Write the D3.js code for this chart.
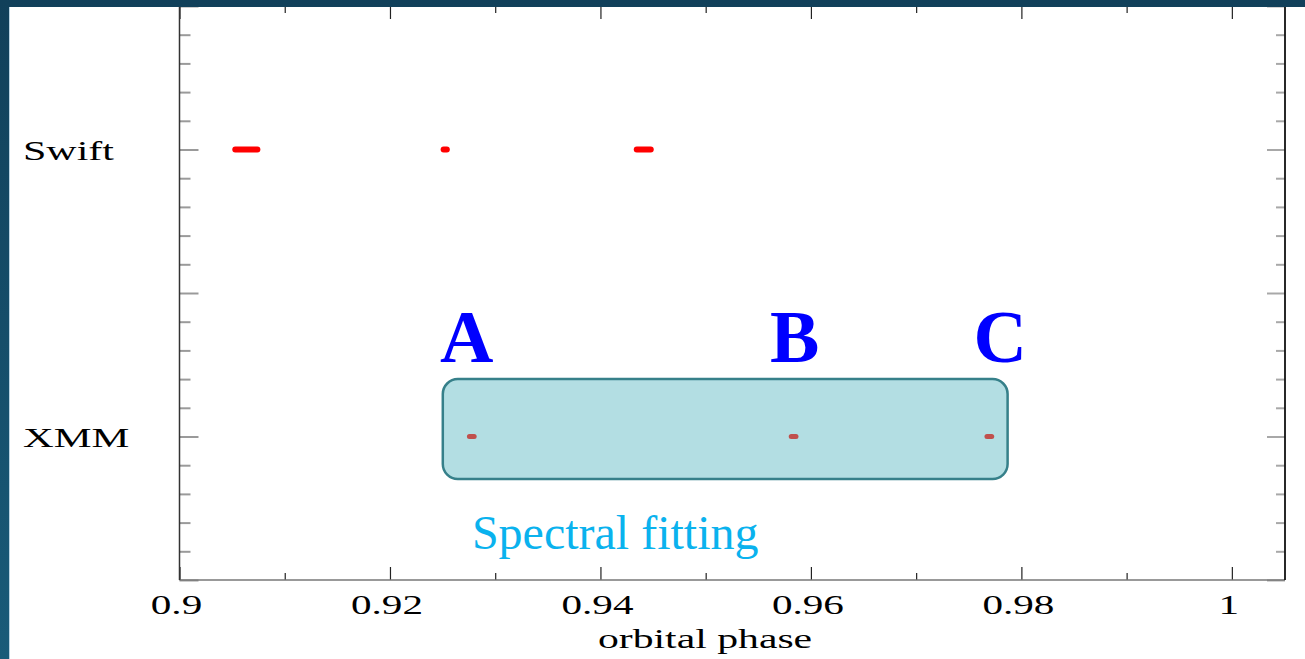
<!DOCTYPE html>
<html>
<head>
<meta charset="utf-8">
<script src="https://cdn.jsdelivr.net/npm/d3@7"></script>
<style>
  html, body { margin: 0; padding: 0; background: #fff; }
  svg { display: block; }
  text { font-family: "Liberation Serif", "Times New Roman", serif; }
</style>
</head>
<body>
<svg id="chart" width="1305" height="659"></svg>
<script>
// Observation windows in orbital phase
const instruments = ["Swift", "XMM"];
const instrumentLevel = [2, 1];

const swiftStart = [0.9053, 0.9251, 0.94345];
const swiftEnd   = [0.9074, 0.9254, 0.94478];

const xmmStart = [0.92755, 0.95813, 0.97673];
const xmmEnd   = [0.92800, 0.95858, 0.97718];
const xmmLabels = ["A", "B", "C"];

const phaseTicks = [0.9, 0.92, 0.94, 0.96, 0.98, 1];
const phaseTickLabels = ["0.9", "0.92", "0.94", "0.96", "0.98", "1"];
const phaseMinorTicks = [0.91, 0.93, 0.95, 0.97, 0.99];

const fitWindow = [0.92502, 0.97869];   // phase range used for spectral fitting
const fitLevels = [0.852, 1.2];

const svg = d3.select("#chart");
const W = 1305, H = 659;

// backdrop frame
const defs = svg.append("defs");
const grad = defs.append("linearGradient")
  .attr("id", "frame").attr("x1", 0).attr("y1", 0).attr("x2", 0).attr("y2", 1);
grad.append("stop").attr("offset", "0%").attr("stop-color", "#11405a");
grad.append("stop").attr("offset", "100%").attr("stop-color", "#195b79");
defs.append("clipPath").attr("id", "panel").append("rect")
  .attr("x", 9).attr("y", 7).attr("width", W - 9).attr("height", H - 7);

svg.append("rect").attr("width", W).attr("height", H).attr("fill", "url(#frame)");
svg.append("rect").attr("x", 9).attr("y", 7).attr("width", W - 9).attr("height", H - 7).attr("fill", "#fff");
svg.append("line").attr("x1", 9.5).attr("x2", 9.5).attr("y1", 7).attr("y2", H)
  .attr("stroke", "#b9d3e2").attr("stroke-width", 1);

const plot = { left: 179.5, right: 1285, top: 6, bottom: 580 };

const x = d3.scaleLinear().domain([0.9, 1.00505]).range([plot.left, plot.right]);
const y = d3.scaleLinear().domain([0.5, 2.5]).range([plot.bottom, plot.top]);

const g = svg.append("g").attr("clip-path", "url(#panel)");

// spectral fitting window
g.append("rect")
  .attr("x", x(fitWindow[0]))
  .attr("y", y(fitLevels[1]))
  .attr("width", x(fitWindow[1]) - x(fitWindow[0]))
  .attr("height", y(fitLevels[0]) - y(fitLevels[1]))
  .attr("rx", 15).attr("ry", 15)
  .attr("fill", "#b3dee3")
  .attr("stroke", "#36808a")
  .attr("stroke-width", 2.5);

// y ticks (inner, both sides)
const yMinor = d3.range(6, 25).map(d => d / 10).filter(v => Math.round(v * 10) % 5 !== 0);
const yMajor = [0.5, 1, 1.5, 2, 2.5];
function yTicks(xPos, side, minorLen, majorLen, colour) {
  const maker = side > 0 ? d3.axisRight : d3.axisLeft;
  [[yMinor, minorLen], [yMajor, majorLen]].forEach(([vals, len]) => {
    g.append("g").attr("transform", `translate(${xPos},0)`)
      .call(maker(y).tickValues(vals).tickSize(len).tickFormat(""))
      .call(a => a.select(".domain").remove())
      .call(a => a.selectAll("line").attr("stroke", colour).attr("stroke-width", 2));
  });
}
yTicks(plot.left, 1, 11, 19, "#9a9a9a");
yTicks(plot.right, -1, 9, 18, "#a8a8a8");

// x ticks (inner, bottom and top)
function xTicks(yPos, dir) {
  const maker = dir > 0 ? d3.axisBottom : d3.axisTop;
  [[phaseMinorTicks, 7], [phaseTicks, 13]].forEach(([vals, len]) => {
    g.append("g").attr("transform", `translate(0,${yPos})`)
      .call(maker(x).tickValues(vals).tickSize(len).tickFormat(""))
      .call(a => a.select(".domain").remove())
      .call(a => a.selectAll("line").attr("stroke", "#222").attr("stroke-width", 1.2));
  });
}
xTicks(plot.bottom, -1);
xTicks(plot.top, 1);

// frame lines
g.append("line").attr("x1", plot.left).attr("x2", plot.right).attr("y1", plot.bottom).attr("y2", plot.bottom)
  .attr("stroke", "#777").attr("stroke-width", 1.5);
g.append("line").attr("x1", plot.left).attr("x2", plot.left).attr("y1", plot.top).attr("y2", plot.bottom)
  .attr("stroke", "#333").attr("stroke-width", 1.5);
g.append("line").attr("x1", plot.right).attr("x2", plot.right).attr("y1", plot.top).attr("y2", plot.bottom)
  .attr("stroke", "#111").attr("stroke-width", 1.8);

// Swift intervals
g.selectAll(".swift").data(swiftStart.map((s, i) => ({ s, e: swiftEnd[i] })))
  .join("line").attr("class", "swift")
  .attr("x1", d => x(d.s)).attr("x2", d => x(d.e))
  .attr("y1", y(instrumentLevel[0])).attr("y2", y(instrumentLevel[0]))
  .attr("stroke", "#ff0000").attr("stroke-width", 6).attr("stroke-linecap", "round");

// XMM intervals
g.selectAll(".xmm").data(xmmStart.map((s, i) => ({ s, e: xmmEnd[i] })))
  .join("line").attr("class", "xmm")
  .attr("x1", d => x(d.s)).attr("x2", d => x(d.e))
  .attr("y1", y(instrumentLevel[1])).attr("y2", y(instrumentLevel[1]))
  .attr("stroke", "#c0504d").attr("stroke-width", 5).attr("stroke-linecap", "round");

// XMM observation letters
const letterShift = [-5, 1, 11];
svg.selectAll(".letter").data(xmmLabels)
  .join("text").attr("class", "letter")
  .attr("x", (d, i) => x((xmmStart[i] + xmmEnd[i]) / 2) + letterShift[i])
  .attr("y", 362)
  .attr("text-anchor", "middle")
  .attr("font-size", 74).attr("font-weight", "bold")
  .attr("fill", "#0000ff")
  .text(d => d);

svg.append("text")
  .attr("x", x((fitWindow[0] + fitWindow[1]) / 2) - 110)
  .attr("y", 549)
  .attr("text-anchor", "middle")
  .attr("font-size", 48)
  .attr("fill", "#0ab2ee")
  .text("Spectral fitting");

// horizontally stretched serif labels
function wideText(tx, ty, str, anchor, sx) {
  svg.append("text")
    .attr("transform", `translate(${tx},${ty}) scale(${sx},1)`)
    .attr("text-anchor", anchor)
    .attr("font-size", 28)
    .attr("fill", "#000")
    .text(str);
}

phaseTicks.forEach((p, i) => wideText(x(p) - 3, 614, phaseTickLabels[i], "middle", 1.47));
instruments.forEach((name, i) => wideText(23, y(instrumentLevel[i]) + 10, name, "start", name === "XMM" ? 1.52 : 1.5));
wideText(705, 648, "orbital phase", "middle", 1.49);
</script>
</body>
</html>
